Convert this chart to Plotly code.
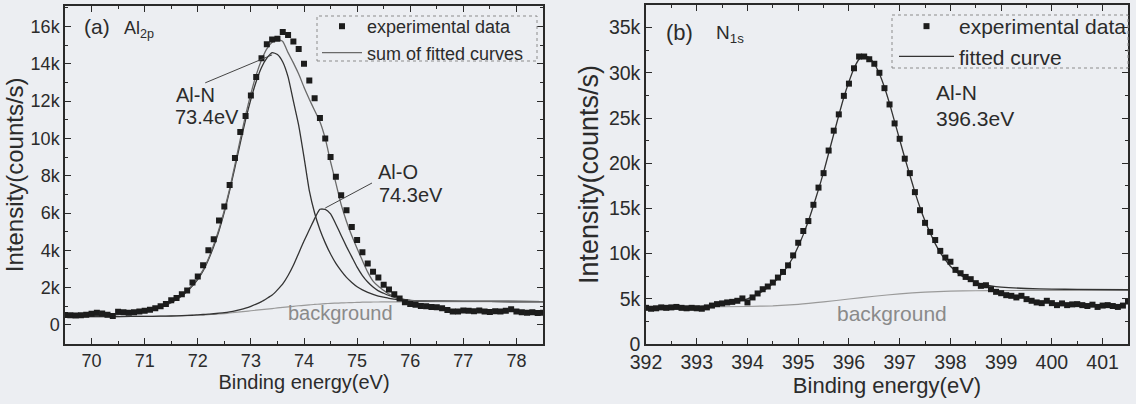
import numpy as np
import plotly.graph_objects as go

# ---------------- Panel (a): Al2p ----------------
a_E_start, a_E_step = 69.5, 0.1
a_data_k = [0.54, 0.52, 0.50, 0.52, 0.55, 0.60, 0.65, 0.62, 0.55, 0.48,
            0.71, 0.68, 0.66, 0.68, 0.72, 0.76, 0.82, 0.90, 1.00, 1.12,
            1.32, 1.45, 1.65, 1.85, 2.27, 2.60, 3.20, 4.00, 4.60, 5.60,
            6.35, 7.50, 8.95, 10.35, 11.20, 12.30, 13.30, 14.30, 15.05, 15.30,
            15.35, 15.70, 15.55, 15.20, 14.80, 14.00, 13.10, 12.15, 11.10, 10.00,
            9.00, 7.95, 6.95, 6.15, 5.25, 4.55, 3.90, 3.30, 2.85, 2.55,
            2.15, 1.90, 1.65, 1.42, 1.22,
            1.12, 1.08, 1.02, 1.00, 0.96, 0.95, 0.90, 0.80, 0.72, 0.72,
            0.78, 0.76, 0.74, 0.78, 0.72, 0.70, 0.74, 0.72, 0.76, 0.84,
            0.72, 0.68, 0.66, 0.68, 0.64, 0.66]

a_fit_E = [69.5, 70.0, 70.5, 71.0, 71.3, 71.5, 71.7, 71.9, 72.0, 72.1, 72.2, 72.3, 72.4,
           72.5, 72.6, 72.7, 72.8, 72.9, 73.0, 73.1, 73.2, 73.3, 73.4, 73.5, 73.6, 73.7,
           73.8, 73.9, 74.0, 74.1, 74.2, 74.3, 74.4, 74.5, 74.6, 74.7, 74.8, 74.9, 75.0,
           75.1, 75.2, 75.3, 75.4, 75.5, 75.6, 75.8, 76.0, 76.5, 77.5, 78.5]
a_sum_k = [0.50, 0.52, 0.58, 0.75, 0.98, 1.25, 1.60, 2.15, 2.50, 2.95, 3.55, 4.30, 5.15,
           6.15, 7.30, 8.60, 9.95, 11.25, 12.40, 13.40, 14.20, 14.80, 15.15, 15.30, 15.20, 14.60,
           14.05, 13.45, 12.75, 12.10, 11.50, 10.90, 10.00, 8.75, 7.60, 6.45, 5.55, 4.78, 4.10,
           3.45, 2.83, 2.35, 2.07, 1.85, 1.65, 1.42, 1.32, 1.27, 1.26, 1.25]
a_AlN_k = [0.48, 0.50, 0.56, 0.72, 0.95, 1.20, 1.55, 2.10, 2.45, 2.90, 3.50, 4.20, 5.05,
           6.05, 7.20, 8.45, 9.75, 11.00, 12.10, 13.05, 13.80, 14.30, 14.60, 14.50, 14.10, 13.30,
           12.00, 10.70, 9.00, 7.20, 6.00, 5.10, 4.40, 3.80, 3.30, 2.90, 2.55, 2.28, 2.05,
           1.88, 1.75, 1.64, 1.55, 1.49, 1.43, 1.35, 1.30, 1.27, 1.26, 1.25]
a_AlO_k = [0.45, 0.45, 0.45, 0.46, 0.47, 0.48, 0.50, 0.52, 0.54, 0.56, 0.58, 0.60, 0.63,
           0.66, 0.70, 0.75, 0.82, 0.90, 1.00, 1.12, 1.25, 1.42, 1.60, 1.88, 2.20, 2.65,
           3.20, 3.85, 4.50, 5.10, 5.70, 6.20, 6.20, 5.95, 5.40, 4.80, 4.20, 3.65, 3.10,
           2.65, 2.30, 2.03, 1.83, 1.70, 1.58, 1.40, 1.32, 1.27, 1.26, 1.25]
a_bg_k = [0.45, 0.45, 0.45, 0.46, 0.47, 0.48, 0.49, 0.51, 0.52, 0.53, 0.55, 0.57, 0.59,
          0.61, 0.64, 0.67, 0.70, 0.73, 0.76, 0.79, 0.82, 0.85, 0.88, 0.91, 0.94, 0.97,
          1.00, 1.03, 1.05, 1.08, 1.10, 1.12, 1.14, 1.16, 1.17, 1.18, 1.19, 1.20, 1.21,
          1.22, 1.22, 1.23, 1.23, 1.24, 1.24, 1.24, 1.25, 1.25, 1.25, 1.25]

a_xticks = [70, 71, 72, 73, 74, 75, 76, 77, 78]
a_yticks = [0, 2, 4, 6, 8, 10, 12, 14, 16]
a_yticktext = ["0", "2k", "4k", "6k", "8k", "10k", "12k", "14k", "16k"]

# ---------------- Panel (b): N1s ----------------
b_E_start, b_E_step = 392.0, 0.1
b_data_k = [4.00, 3.90, 3.95, 4.05, 4.00, 4.05, 4.10, 4.00, 3.95, 4.00,
            3.95, 3.90, 4.05, 4.25, 4.41, 4.49, 4.60, 4.66, 4.78, 5.04,
            4.60, 5.15, 5.59, 6.06, 6.36, 6.80, 7.35, 7.97, 8.70, 9.80,
            11.2, 12.5, 13.6, 15.4, 17.3, 18.9, 21.4, 23.6, 25.4, 27.45,
            28.8, 30.5, 31.8, 31.8, 31.5, 31.0, 30.0, 28.3, 26.5, 24.4,
            22.7, 20.5, 18.9, 16.8, 14.8, 13.4, 12.4, 11.5, 10.3, 9.56,
            9.10, 8.20, 7.83, 7.42, 7.17, 6.73, 6.43, 6.50, 6.06, 5.77,
            5.62, 5.40, 5.33, 5.15, 5.33, 4.96, 4.78, 4.60, 4.52, 4.78,
            4.52, 4.30, 4.49, 4.30, 4.38, 4.41, 4.30, 4.20, 4.35, 4.10,
            4.25, 4.30, 4.20, 4.10, 4.25, 4.70]

b_fit_E = [392.0, 393.0, 393.5, 394.0, 394.3, 394.5, 394.7, 394.9, 395.0, 395.1, 395.2,
           395.3, 395.4, 395.5, 395.6, 395.7, 395.8, 395.9, 396.0, 396.1, 396.2, 396.3,
           396.4, 396.5, 396.6, 396.7, 396.8, 396.9, 397.0, 397.1, 397.2, 397.3, 397.4,
           397.5, 397.6, 397.7, 397.8, 397.9, 398.0, 398.2, 398.4, 398.6, 398.8, 399.0,
           399.5, 400.0, 400.5, 401.5]
b_fit_k = [4.10, 4.15, 4.45, 5.00, 5.85, 6.70, 7.90, 9.60, 10.8, 12.1, 13.6,
           15.3, 17.1, 19.0, 21.1, 23.2, 25.3, 27.3, 29.0, 30.5, 31.5, 31.9,
           31.7, 31.0, 29.9, 28.4, 26.6, 24.6, 22.6, 20.6, 18.7, 16.8, 15.1,
           13.6, 12.3, 11.1, 10.1, 9.3, 8.6, 7.6, 7.0, 6.65, 6.43, 6.30,
           6.14, 6.08, 6.04, 6.00]
b_bg_E = [392.0, 393.0, 394.0, 394.5, 395.0, 395.5, 396.0, 396.5, 397.0, 397.5,
          398.0, 398.5, 399.0, 400.0, 401.5]
b_bg_k = [4.10, 4.10, 4.15, 4.22, 4.38, 4.65, 4.98, 5.28, 5.55, 5.74,
          5.84, 5.89, 5.91, 5.93, 5.94]

b_xticks = [392, 393, 394, 395, 396, 397, 398, 399, 400, 401]
b_yticks = [0, 5, 10, 15, 20, 25, 30, 35]
b_yticktext = ["0", "5k", "10k", "15k", "20k", "25k", "30k", "35k"]

a_E = np.round(a_E_start + a_E_step * np.arange(len(a_data_k)), 2)
b_E = np.round(b_E_start + b_E_step * np.arange(len(b_data_k)), 2)

W, H = 1136, 404
FONT = "Liberation Sans, Arial, sans-serif"
TXT = "#2b2b2b"
BG = "#eceef2"
DARK = "#333333"
MID = "#6a6a6a"
LIGHT = "#9a9a9a"

def px_x(p):
    return p / W

def px_y(p):
    return 1 - p / H

fig = go.Figure()

# panel a curves
fig.add_trace(go.Scatter(x=a_fit_E, y=a_bg_k, mode="lines", line=dict(color=LIGHT, width=1.2, shape="spline", smoothing=0.5),
                         showlegend=False, xaxis="x", yaxis="y"))
fig.add_trace(go.Scatter(x=a_fit_E, y=a_AlN_k, mode="lines", line=dict(color=DARK, width=1.3, shape="spline", smoothing=0.5),
                         showlegend=False, xaxis="x", yaxis="y"))
fig.add_trace(go.Scatter(x=a_fit_E, y=a_AlO_k, mode="lines", line=dict(color=DARK, width=1.3, shape="spline", smoothing=0.5),
                         showlegend=False, xaxis="x", yaxis="y"))
fig.add_trace(go.Scatter(x=a_fit_E, y=a_sum_k, mode="lines", name="sum of fitted curves",
                         line=dict(color=MID, width=1.3, shape="spline", smoothing=0.5),
                         legend="legend", legendrank=2, xaxis="x", yaxis="y"))
fig.add_trace(go.Scatter(x=a_E, y=a_data_k, mode="markers", name="experimental data",
                         marker=dict(symbol="square", size=6, color="#1c1c1c"),
                         legend="legend", legendrank=1, xaxis="x", yaxis="y"))

# panel b curves
fig.add_trace(go.Scatter(x=b_bg_E, y=b_bg_k, mode="lines", line=dict(color=LIGHT, width=1.2, shape="spline", smoothing=0.5),
                         showlegend=False, xaxis="x2", yaxis="y2"))
fig.add_trace(go.Scatter(x=b_fit_E, y=b_fit_k, mode="lines", name="fitted curve",
                         line=dict(color=DARK, width=1.3, shape="spline", smoothing=0.5),
                         legend="legend2", legendrank=2, xaxis="x2", yaxis="y2"))
fig.add_trace(go.Scatter(x=b_E, y=b_data_k, mode="markers", name="experimental data",
                         marker=dict(symbol="square", size=6, color="#1c1c1c"),
                         legend="legend2", legendrank=1, xaxis="x2", yaxis="y2"))

axis_common = dict(showline=True, linecolor="#2a2a2a", linewidth=1.5, mirror="allticks",
                   ticks="inside", ticklen=6, tickwidth=1.2, tickcolor="#2a2a2a",
                   showgrid=False, zeroline=False, color=TXT, automargin=False)

fig.update_layout(
    width=W, height=H,
    margin=dict(l=0, r=0, t=0, b=0, autoexpand=False),
    paper_bgcolor=BG, plot_bgcolor=BG,
    font=dict(family=FONT, color=TXT, size=18),
    xaxis=dict(domain=[px_x(65), px_x(543)], range=[69.5, 78.5], tickvals=a_xticks,
               tickfont=dict(size=18), title=dict(text="Binding energy(eV)", font=dict(size=20), standoff=2),
               minor=dict(ticks="inside", ticklen=3, dtick=0.5, tickcolor="#2a2a2a"),
               anchor="y", **axis_common),
    yaxis=dict(domain=[px_y(343.6), px_y(6)], range=[-1, 17.1], tickvals=a_yticks, ticktext=a_yticktext,
               tickfont=dict(size=18), title=dict(text="Intensity(counts/s)", font=dict(size=24), standoff=0),
               minor=dict(ticks="inside", ticklen=3, dtick=1, tickcolor="#2a2a2a"),
               anchor="x", **axis_common),
    xaxis2=dict(domain=[px_x(646), px_x(1128)], range=[392, 401.5], tickvals=b_xticks,
                tickfont=dict(size=19.5), title=dict(text="Binding energy(eV)", font=dict(size=22), standoff=2),
                minor=dict(ticks="inside", ticklen=3, dtick=0.5, tickcolor="#2a2a2a"),
                anchor="y2", **axis_common),
    yaxis2=dict(domain=[px_y(344), px_y(5)], range=[0, 37.5], tickvals=b_yticks, ticktext=b_yticktext,
                tickfont=dict(size=19.5), title=dict(text="Intensity(counts/s)", font=dict(size=27), standoff=2),
                minor=dict(ticks="inside", ticklen=3, dtick=2.5, tickcolor="#2a2a2a"),
                anchor="x2", **axis_common),
    legend=dict(x=px_x(317), y=px_y(8), xanchor="left", yanchor="top", bgcolor="rgba(0,0,0,0)",
                font=dict(size=18, color=TXT), itemwidth=40, tracegroupgap=0),
    legend2=dict(x=px_x(894), y=px_y(6), xanchor="left", yanchor="top", bgcolor="rgba(0,0,0,0)",
                 font=dict(size=21, color=TXT), itemwidth=55, tracegroupgap=0),
    showlegend=True,
)

# dotted legend frames
fig.add_shape(type="rect", xref="paper", yref="paper", x0=px_x(317), x1=px_x(537), y0=px_y(61), y1=px_y(16),
              line=dict(color="#8c8c8c", width=1, dash="dot"))
fig.add_shape(type="rect", xref="paper", yref="paper", x0=px_x(892), x1=px_x(1128), y0=px_y(68), y1=px_y(15),
              line=dict(color="#8c8c8c", width=1, dash="dot"))

# leader lines (data coordinates)
a_AlN_leader = [(72.14, 12.98), (73.40, 14.48)]
a_AlO_leader = [(75.28, 7.61), (74.40, 6.27)]
fig.add_shape(type="line", xref="x", yref="y", x0=a_AlN_leader[0][0], y0=a_AlN_leader[0][1],
              x1=a_AlN_leader[1][0], y1=a_AlN_leader[1][1], line=dict(color="#444", width=1))
fig.add_shape(type="line", xref="x", yref="y", x0=a_AlO_leader[0][0], y0=a_AlO_leader[0][1],
              x1=a_AlO_leader[1][0], y1=a_AlO_leader[1][1], line=dict(color="#444", width=1))

def note(text, x, y, xref, yref, size, color=TXT):
    fig.add_annotation(text=text, x=x, y=y, xref=xref, yref=yref, showarrow=False,
                       xanchor="left", yanchor="middle", font=dict(size=size, color=color, family=FONT))

note("(a)", 69.82, 15.98, "x", "y", 21)
note("Al<sub>2p</sub>", 70.57, 15.85, "x", "y", 18)
note("Al-N", 71.55, 12.33, "x", "y", 20)
note("73.4eV", 71.53, 11.15, "x", "y", 20)
note("Al-O", 75.36, 8.2, "x", "y", 20)
note("74.3eV", 75.38, 6.97, "x", "y", 20)
note("background", 73.67, 0.64, "x", "y", 20, "#8a8a8a")

note("(b)", 392.35, 34.5, "x2", "y2", 22)
note("N<sub>1s</sub>", 393.35, 34.3, "x2", "y2", 19)
note("Al-N", 397.67, 27.8, "x2", "y2", 21)
note("396.3eV", 397.67, 25.0, "x2", "y2", 21)
note("background", 395.72, 3.42, "x2", "y2", 21, "#8a8a8a")

fig.write_html("out.html")
